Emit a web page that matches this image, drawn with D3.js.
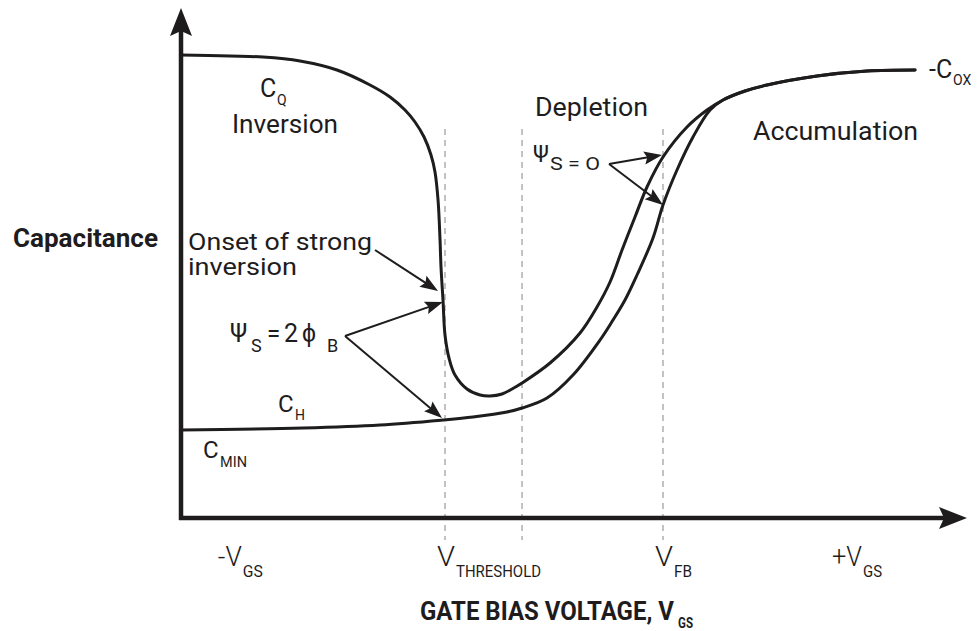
<!DOCTYPE html>
<html>
<head>
<meta charset="utf-8">
<script src="https://cdn.jsdelivr.net/npm/d3@7"></script>
<style>
  html, body { margin: 0; padding: 0; background: #fff; }
  svg { display: block; }
</style>
</head>
<body>
<svg id="chart" width="980" height="631"></svg>
<script>
// MOS capacitor C–V characteristic (arbitrary units: gate bias 0–100, capacitance 0–100)

// Low-frequency (quasi-static) curve: inversion plateau, steep drop, depletion minimum, rise
const quasiStaticBias = [0, 6.13, 10.25, 14.88, 19.5, 23.63, 26.13, 28, 29.25, 30.38,
  31.25, 31.75, 32.13, 32.38, 32.5, 32.75, 33, 33.5, 34.25, 35.75,
  37.38, 38.63, 40.13, 41.38, 42.63, 46.13, 49.88, 52, 53.63, 55.13,
  56.75, 58.25, 60.25, 63.25, 65.75];
const quasiStaticCap = [92.6, 92.4, 92.2, 91.4, 89.6, 86.6, 84.2, 81.6, 79.2, 76.2,
  72.6, 69.2, 63.6, 55.6, 50.2, 43.6, 36.6, 32, 28.6, 25.8,
  24.6, 24.4, 24.8, 25.8, 27, 31, 37, 42.2, 47.2, 53.6,
  60.2, 66.2, 72.2, 78.2, 81.6];

// High-frequency curve: stays at C_min in inversion
const highFreqBias = [0, 15.25, 24.88, 32.75, 36.5, 40.75, 42.63, 45.75, 49, 52.38,
  54, 55.5, 57, 59, 60.25, 62, 64, 66.13];
const highFreqCap = [17.6, 18, 18.6, 19.6, 20.2, 21.2, 22, 24, 28.6, 35.6,
  39.6, 43.6, 48.6, 56, 62.6, 69.6, 76.2, 81.6];

// Shared accumulation branch approaching C_ox
const accumBias = [67.75, 70.5, 73.25, 79.5, 85.75, 91.75];
const accumCap = [83.6, 85.4, 86.6, 88.4, 89.4, 89.6];

// Reference voltages drawn as dashed guides
const markerBias = [33, 42.63, 60.25];

// Axis tick labels
const tickBias = [6.6, 33, 60.25, 84];
const tickMain = ["-V", "V", "V", "+V"];
const tickSub = ["GS", "THRESHOLD", "FB", "GS"];

// Annotation arrows (from label toward the curve)
const arrowFromBias = [24.25, 20.5, 20.5, 53.5, 53.5];
const arrowFromCap = [53.6, 36.4, 36.4, 70.8, 70.8];
const arrowToBias = [32.13, 32.75, 32.63, 60.13, 60.25];
const arrowToCap = [45.4, 43.2, 20, 72.6, 62.6];

const W = 980, H = 631;
const INK = "#1e1c1d";
const FONT = "Roboto, 'Open Sans', 'Liberation Sans', sans-serif";

const svg = d3.select("#chart");
const x = d3.scaleLinear().domain([0, 100]).range([181, 981]);
const y = d3.scaleLinear().domain([0, 100]).range([518, 18]);

// ---------- helpers ----------
function arrowHead(tx, ty, angle, len, half, notch) {
  const ca = Math.cos(angle), sa = Math.sin(angle);
  const bx = tx - ca * len, by = ty - sa * len;
  const px = -sa, py = ca;
  const nx = tx - ca * (len - notch), ny = ty - sa * (len - notch);
  return `M${tx},${ty}L${bx + px * half},${by + py * half}L${nx},${ny}L${bx - px * half},${by - py * half}Z`;
}

function put(g, text, px, py, size, opts = {}) {
  const t = g.append("text")
    .attr("x", px).attr("y", py)
    .attr("font-family", FONT)
    .attr("font-size", size)
    .attr("font-weight", opts.weight || 400)
    .attr("fill", INK)
    .text(text);
  if (opts.len) t.attr("textLength", opts.len).attr("lengthAdjust", "spacingAndGlyphs");
  if (opts.anchor) t.attr("text-anchor", opts.anchor);
  return t;
}

// ---------- dashed guides ----------
svg.append("g").selectAll("line")
  .data(markerBias)
  .join("line")
  .attr("x1", d => x(d)).attr("x2", d => x(d))
  .attr("y1", 129).attr("y2", 540)
  .attr("stroke", "#a9a9a9")
  .attr("stroke-width", 1.4)
  .attr("stroke-dasharray", "6,5");

// ---------- curves ----------
const line = d3.line()
  .x(d => x(d[0]))
  .y(d => y(d[1]))
  .curve(d3.curveCatmullRom.alpha(0.5));

const tail = accumBias.map((b, i) => [b, accumCap[i]]);
const qs = quasiStaticBias.map((b, i) => [b, quasiStaticCap[i]]).concat(tail);
const hf = highFreqBias.map((b, i) => [b, highFreqCap[i]]).concat(tail);

svg.append("g")
  .selectAll("path")
  .data([hf, qs])
  .join("path")
  .attr("d", line)
  .attr("fill", "none")
  .attr("stroke", INK)
  .attr("stroke-width", 3)
  .attr("stroke-linejoin", "round")
  .attr("stroke-linecap", "round");

// ---------- axes ----------
const axes = svg.append("g");
axes.append("line")
  .attr("x1", x(0)).attr("x2", x(0))
  .attr("y1", y(0) + 2).attr("y2", 30)
  .attr("stroke", INK).attr("stroke-width", 4.5);
axes.append("path")
  .attr("d", arrowHead(x(0), 8, -Math.PI / 2, 28, 11, 5))
  .attr("fill", INK);
axes.append("line")
  .attr("x1", x(0) - 2).attr("x2", 945)
  .attr("y1", y(0)).attr("y2", y(0))
  .attr("stroke", INK).attr("stroke-width", 4.5);
axes.append("path")
  .attr("d", arrowHead(967, y(0), 0, 28, 11, 5))
  .attr("fill", INK);

// ---------- annotation arrows ----------
const ann = svg.append("g");
arrowFromBias.forEach((fb, i) => {
  const x1 = x(fb), y1 = y(arrowFromCap[i]);
  const x2 = x(arrowToBias[i]), y2 = y(arrowToCap[i]);
  const a = Math.atan2(y2 - y1, x2 - x1);
  const len = 18;
  ann.append("line")
    .attr("x1", x1).attr("y1", y1)
    .attr("x2", x2 - Math.cos(a) * (len - 4)).attr("y2", y2 - Math.sin(a) * (len - 4))
    .attr("stroke", INK).attr("stroke-width", 2);
  ann.append("path")
    .attr("d", arrowHead(x2, y2, a, len, 6.5, 3))
    .attr("fill", INK);
});

// ---------- text labels ----------
const tg = svg.append("g");

// y-axis title
put(tg, "Capacitance", 13, 247, 25, { weight: 700, len: 145 });

// region names
put(tg, "C", 260, 97, 25);
put(tg, "Q", 277, 105, 14);
put(tg, "Inversion", 232, 133, 26, { len: 106 });
put(tg, "Depletion", 535, 116, 26, { len: 113 });
put(tg, "Accumulation", 753, 140, 26, { len: 165 });
put(tg, "-C", 929, 78, 25);
put(tg, "OX", 953, 85, 14);

// onset of strong inversion
put(tg, "Onset of strong", 188, 250, 23, { len: 184 });
put(tg, "inversion", 188, 275, 23, { len: 109 });

// surface potential labels
put(tg, "\u03A8", 230, 342, 25);
put(tg, "S", 251, 352, 18);
put(tg, "=", 267, 342, 24);
put(tg, "2", 284, 342, 25);
put(tg, "\u03D5", 302, 342, 25);
put(tg, "B", 327, 352, 18);

put(tg, "\u03A8", 533, 162, 23);
put(tg, "S = O", 550, 170, 18, { len: 50 });

// curve names
put(tg, "C", 278, 412, 24);
put(tg, "H", 295, 420, 14);
put(tg, "C", 203, 458, 24);
put(tg, "MIN", 220, 467, 14, { len: 27 });

// x-axis tick labels (condensed)
const tickMainLen = [24, 18, 18, 30];
const tickMainOffset = [16, 8, 8, 21];
const tickSubLen = [20, 85, 18, 19];
tickBias.forEach((b, i) => {
  const sx = x(b) - tickMainOffset[i];
  put(tg, tickMain[i], sx, 566, 28, { len: tickMainLen[i], weight: 300 });
  put(tg, tickSub[i], sx + tickMainLen[i] + 1, 577, 16, { len: tickSubLen[i] });
});

// x-axis title
put(tg, "GATE BIAS VOLTAGE, V", 420, 620, 26, { weight: 700, len: 254 });
put(tg, "GS", 678, 628, 14, { weight: 700, len: 15 });
</script>
</body>
</html>
